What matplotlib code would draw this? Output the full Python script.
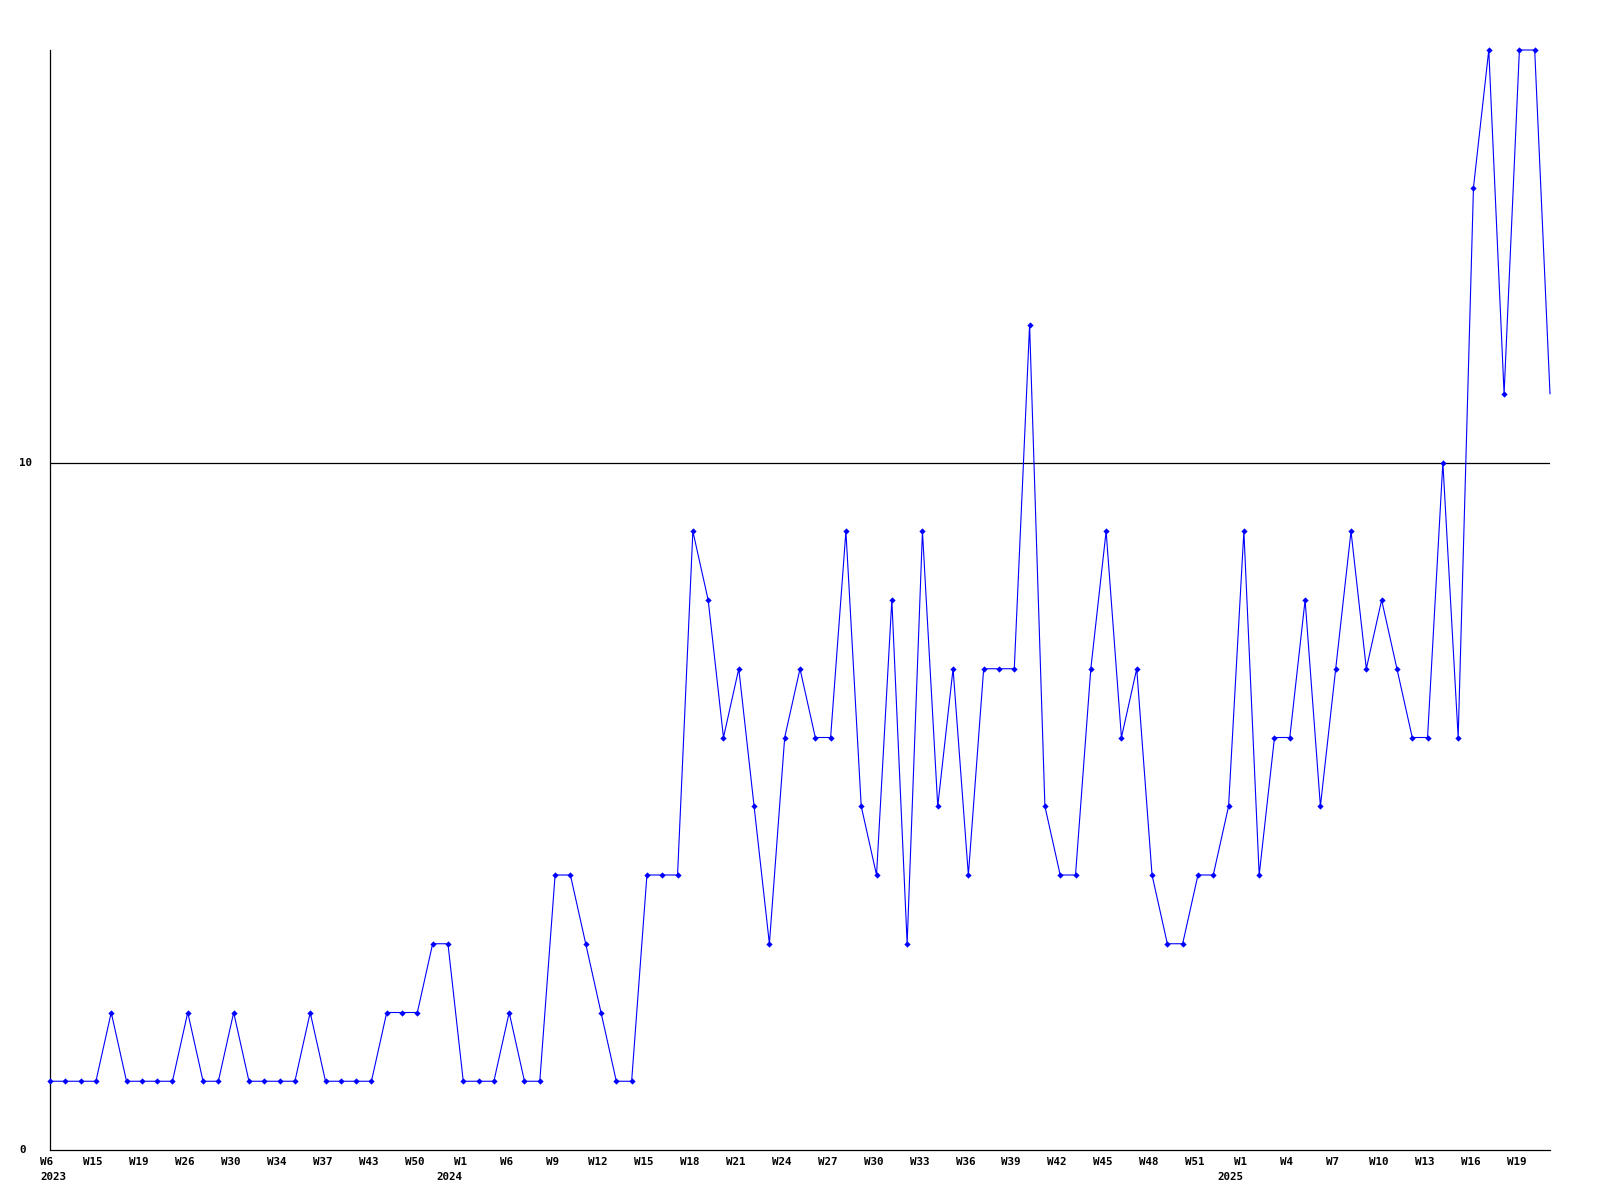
import matplotlib
matplotlib.use("Agg")
import matplotlib.pyplot as plt
import matplotlib.transforms as mtransforms

# ---- data ----
values = [1, 1, 1, 1, 2, 1, 1, 1, 1, 2, 1, 1, 2, 1, 1, 1, 1, 2, 1, 1,
          1, 1, 2, 2, 2, 3, 3, 1, 1, 1, 2, 1, 1, 4, 4, 3, 2, 1, 1, 4,
          4, 4, 9, 8, 6, 7, 5, 3, 6, 7, 6, 6, 9, 5, 4, 8, 3, 9, 5, 7,
          4, 7, 7, 7, 12, 5, 4, 4, 7, 9, 6, 7, 4, 3, 3, 4, 4, 5, 9, 4,
          6, 6, 8, 5, 7, 9, 7, 8, 7, 6, 6, 10, 6, 14, 16, 11, 16, 16, 11]

week_labels = ["W6", "W15", "W19", "W26", "W30", "W34", "W37", "W43", "W50",
               "W1", "W6", "W9", "W12", "W15", "W18", "W21", "W24", "W27",
               "W30", "W33", "W36", "W39", "W42", "W45", "W48", "W51",
               "W1", "W4", "W7", "W10", "W13", "W16", "W19"]
label_step = 3
year_labels = ["2023", "2024", "2025"]
year_label_index = [0, 9, 26]   # index into week_labels

y_ticks = [0, 10]
y_max = 16
ref_line = 10

# ---- figure ----
fig = plt.figure(figsize=(16, 12), dpi=100)
ax = fig.add_axes([50 / 1600, 50 / 1200, 1500 / 1600, 1100 / 1200])

x = list(range(len(values)))
ax.plot(x, values, color="#0000ff", linewidth=0.8, zorder=3, clip_on=False)
ax.plot(x[:-1], values[:-1], linestyle="none", marker="D", markersize=3.2,
        color="#0000ff", markeredgewidth=0, zorder=4, clip_on=False)

ax.axhline(ref_line, color="black", linewidth=0.9, zorder=2)

ax.set_xlim(0, len(values) - 1)
ax.set_ylim(0, y_max)

for s in ["top", "right"]:
    ax.spines[s].set_visible(False)
for s in ["left", "bottom"]:
    ax.spines[s].set_color("black")
    ax.spines[s].set_linewidth(0.9)

ax.set_xticks([])
ax.set_yticks([])

font = dict(family="DejaVu Sans Mono", fontweight="bold", fontsize=7.8, color="black")

# y labels (left-aligned near left edge)
ytrans = mtransforms.blended_transform_factory(fig.transFigure, ax.transData)
for v in y_ticks:
    ax.text(19 / 1600, v, str(v), transform=ytrans, ha="left", va="center",
            clip_on=False, **font)

# x labels
xtrans = mtransforms.blended_transform_factory(ax.transData, fig.transFigure)
for k, lab in enumerate(week_labels):
    xi = k * label_step
    ax.text(xi - 0.2, 1 - 1162 / 1200, lab, transform=xtrans, ha="center",
            va="center", clip_on=False, **font)

for yl, k in zip(year_labels, year_label_index):
    xi = k * label_step
    if xi == 0:
        ax.text(xi - 0.65, 1 - 1176.5 / 1200, yl, transform=xtrans, ha="left",
                va="center", clip_on=False, **font)
    else:
        ax.text(xi - 0.9, 1 - 1176.5 / 1200, yl, transform=xtrans, ha="center",
                va="center", clip_on=False, **font)

fig.savefig("out.png", dpi=100, facecolor="white")
